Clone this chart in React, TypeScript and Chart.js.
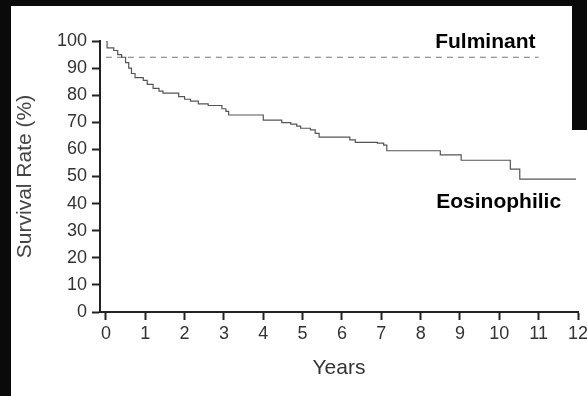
import React, { useEffect, useRef } from "react";
import { Chart, registerables } from "chart.js";

Chart.register(...registerables);

const eosYears = [0, 0.03, 0.2, 0.3, 0.4, 0.5, 0.58, 0.65, 0.74, 0.95, 1.05, 1.2, 1.35, 1.45, 1.85, 2.0, 2.15, 2.35, 2.6, 2.95, 3.05, 3.12, 4.0, 4.47, 4.7, 4.85, 4.95, 5.2, 5.32, 5.42, 6.2, 6.34, 6.9, 7.06, 7.14, 8.5, 9.03, 10.28, 10.52, 11.95];
const eosRate = [100, 97.5, 96.5, 95, 94, 92, 90, 88, 86.5, 85.5, 84, 82.5, 81.5, 80.8, 79.5, 78.5, 77.8, 76.8, 76.2, 75, 74, 72.7, 70.8, 69.9, 69.3, 68.6, 67.8, 67.2, 65.9, 64.5, 63.5, 62.6, 62.3, 61.6, 59.5, 58, 56, 52.7, 49, 49];

const fulYears = [0, 11];
const fulRate = [94, 94];

const xTickValues = [0, 1, 2, 3, 4, 5, 6, 7, 8, 9, 10, 11, 12];
const yTickValues = [0, 10, 20, 30, 40, 50, 60, 70, 80, 90, 100];

const FONT = "'Liberation Sans', Arial, Helvetica, sans-serif";

export default function App() {
  const ref = useRef<HTMLCanvasElement | null>(null);

  useEffect(() => {
    const canvas = ref.current;
    if (!canvas) return;

    const framePlugin = {
      id: "frame",
      beforeDraw(chart: any) {
        const ctx = chart.ctx;
        ctx.save();
        ctx.fillStyle = "#ffffff";
        ctx.fillRect(0, 0, chart.width, chart.height);
        ctx.fillStyle = "#0a0a0a";
        ctx.fillRect(0, 0, 11, chart.height);
        ctx.fillRect(0, 0, chart.width, 6);
        ctx.fillRect(572, 0, chart.width - 572, 130);
        ctx.restore();
      },
    };

    const labelPlugin = {
      id: "curveLabels",
      afterDraw(chart: any) {
        const ctx = chart.ctx;
        const xs = chart.scales.x;
        const ys = chart.scales.y;
        ctx.save();
        ctx.fillStyle = "#000";
        ctx.font = `bold 21px ${FONT}`;
        ctx.textAlign = "right";
        ctx.textBaseline = "alphabetic";
        ctx.fillText("Fulminant", xs.getPixelForValue(10.92), ys.getPixelForValue(97.4));
        ctx.fillText("Eosinophilic", xs.getPixelForValue(11.57), ys.getPixelForValue(38.4));
        ctx.restore();
      },
    };

    const chart = new Chart(canvas, {
      type: "line",
      data: {
        datasets: [
          {
            label: "Eosinophilic",
            data: eosYears.map((x, i) => ({ x, y: eosRate[i] })),
            borderColor: "#555",
            borderWidth: 1.2,
            pointRadius: 0,
            stepped: true,
            tension: 0,
          },
          {
            label: "Fulminant",
            data: fulYears.map((x, i) => ({ x, y: fulRate[i] })),
            borderColor: "#777",
            borderWidth: 1,
            borderDash: [6, 5],
            pointRadius: 0,
            tension: 0,
          },
        ],
      },
      options: {
        animation: false,
        responsive: false,
        maintainAspectRatio: false,
        layout: { padding: { left: 0, top: 41, right: 9, bottom: 0 } },
        plugins: { legend: { display: false }, tooltip: { enabled: false } },
        scales: {
          x: {
            type: "linear",
            min: -0.15,
            max: 12,
            afterBuildTicks: (s: any) => {
              s.ticks = xTickValues.map((v) => ({ value: v }));
            },
            afterFit: (s: any) => {
              s.height = 84;
              s.paddingLeft = 0;
              s.paddingRight = 0;
            },
            grid: { display: true, drawOnChartArea: false, drawTicks: true, tickLength: 8, tickWidth: 2, tickColor: "#222" },
            border: { display: true, width: 2, color: "#222" },
            ticks: { autoSkip: false, maxRotation: 0, padding: 3, color: "#333", font: { family: FONT, size: 18 } },
            title: { display: true, text: "Years", color: "#333", font: { family: FONT, size: 21 }, padding: { top: 0, bottom: 15 } },
          },
          y: {
            type: "linear",
            min: 0,
            max: 100,
            afterBuildTicks: (s: any) => {
              s.ticks = yTickValues.map((v) => ({ value: v }));
            },
            afterFit: (s: any) => {
              s.width = 100;
            },
            grid: { display: true, drawOnChartArea: false, drawTicks: true, tickLength: 8, tickWidth: 2, tickColor: "#222" },
            border: { display: true, width: 2, color: "#222" },
            ticks: { autoSkip: false, padding: 5, color: "#333", font: { family: FONT, size: 18 } },
            title: { display: true, text: "Survival Rate (%)", color: "#444", font: { family: FONT, size: 21 }, padding: { top: 13, bottom: 0 } },
          },
        },
      },
      plugins: [framePlugin, labelPlugin],
    } as any);

    return () => chart.destroy();
  }, []);

  return (
    <div style={{ position: "fixed", left: 0, top: 0, width: 587, height: 396, background: "#fff" }}>
      <canvas ref={ref} width={587} height={396} style={{ display: "block", width: 587, height: 396 }} />
    </div>
  );
}
